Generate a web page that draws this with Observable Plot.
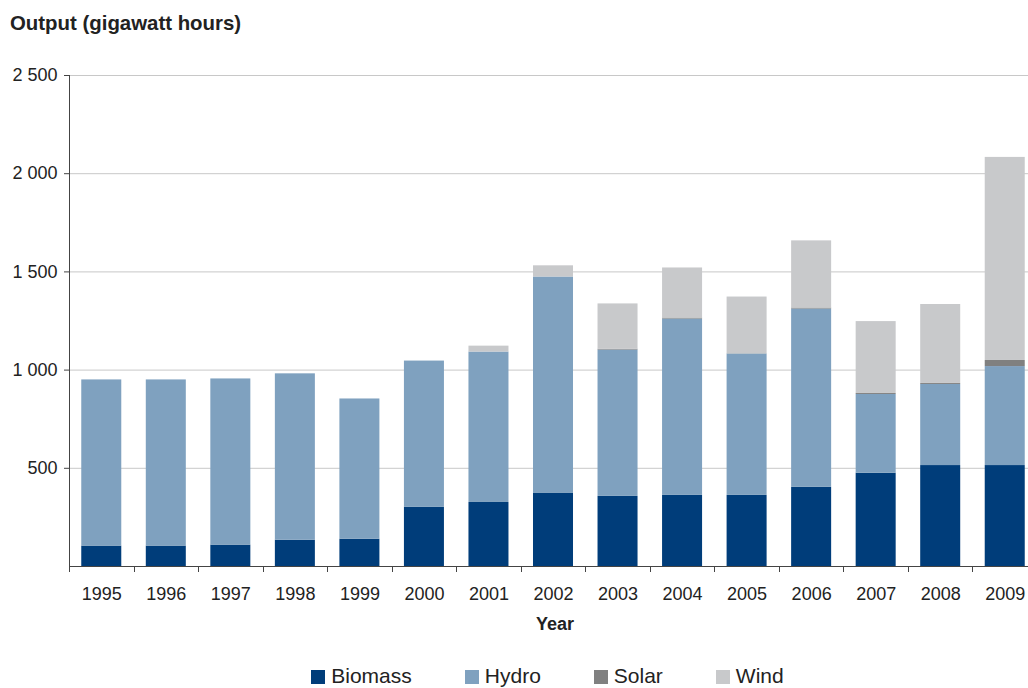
<!DOCTYPE html>
<html>
<head>
<meta charset="utf-8">
<script src="https://cdn.jsdelivr.net/npm/d3@7"></script>
<script src="https://cdn.jsdelivr.net/npm/@observablehq/plot@0.6"></script>
<style>
  body { margin: 0; background: #fff; overflow: hidden; font-family: "Liberation Sans", Arial, sans-serif; color: #222; }
  #wrap { position: relative; width: 1028px; height: 688px; overflow: hidden; }
  #title { position: absolute; left: 10px; top: 13px; font-weight: bold; font-size: 20.4px; line-height: 1; white-space: nowrap; }
  #chart { position: absolute; left: 0; top: 0; }
  #legend { position: absolute; top: 665px; left: 69px; width: 957px; display: flex; justify-content: center; gap: 53px; font-size: 21px; line-height: 1; }
  .item { display: flex; align-items: flex-start; white-space: nowrap; }
  .sw { width: 14px; height: 14px; margin-right: 6px; margin-top: 5px; }
</style>
</head>
<body>
<div id="wrap">
  <div id="title">Output (gigawatt hours)</div>
  <div id="chart"></div>
  <div id="legend"></div>
</div>
<script>
// Electricity output by renewable source, gigawatt hours
const years   = [1995, 1996, 1997, 1998, 1999, 2000, 2001, 2002, 2003, 2004, 2005, 2006, 2007, 2008, 2009];
const biomass = [104, 104, 109, 134, 139, 301, 326, 374, 357, 362, 362, 403, 475, 514, 514];
const hydro   = [846, 846, 846, 847, 714, 745, 766, 1100, 745, 898, 720, 908, 401, 413, 504];
const solar   = [0, 0, 0, 0, 0, 0, 0, 0, 4, 5, 1, 5, 5, 5, 31];
const wind    = [0, 0, 0, 0, 0, 0, 30, 57, 231, 255, 289, 342, 366, 402, 1034];

const sources = ["Biomass", "Hydro", "Solar", "Wind"];
const colours = ["#003d7a", "#7fa1bf", "#808080", "#c8c9cb"];
const yTicks  = [500, 1000, 1500, 2000, 2500];

const seriesBySource = { Biomass: biomass, Hydro: hydro, Solar: solar, Wind: wind };
const rows = sources.flatMap(source =>
  years.map((year, i) => ({ year, source, value: seriesBySource[source][i] }))
);

// Thousands separated by a space: "2 500"
const fmt = d3.formatLocale({ decimal: ".", thousands: " ", grouping: [3], currency: ["", ""] }).format(",");

// Band layout of the year axis
const xRange = [69, 1037];
const padInner = 0.38, padOuter = 0.19;
const step = (xRange[1] - xRange[0]) / (years.length - padInner + 2 * padOuter);
const halfGap = step * padInner / 2;

const font = '"Liberation Sans", Arial, sans-serif';

// Axis lines and the tick marks between year bands
function axisLines(index, scales, values, dims) {
  const g = d3.create("svg:g").attr("stroke", "#444").attr("stroke-width", 1).attr("fill", "none");
  const x0 = dims.marginLeft + 0.5;
  const yb = dims.height - dims.marginBottom;
  g.append("line").attr("x1", x0).attr("x2", x0).attr("y1", dims.marginTop).attr("y2", yb + 0.5);
  g.append("line").attr("x1", x0).attr("x2", dims.width).attr("y1", yb + 0.5).attr("y2", yb + 0.5);
  const bounds = years.map(y => scales.x(y) - halfGap);
  bounds.push(scales.x(years[years.length - 1]) + step - halfGap);
  for (const b of bounds) {
    const xx = Math.round(b) + 0.5;
    g.append("line").attr("x1", xx).attr("x2", xx).attr("y1", yb).attr("y2", yb + 6);
  }
  return g.node();
}

const chart = Plot.plot({
  width: 1028,
  height: 640,
  marginTop: 75,
  marginBottom: 74,
  marginLeft: 69,
  marginRight: 0,
  style: { fontFamily: font, fontSize: "18px", color: "#222", background: "transparent", overflow: "hidden" },
  x: { type: "band", domain: years, range: xRange, paddingInner: padInner, paddingOuter: padOuter, align: 0.5, round: false, label: null },
  y: { domain: [0, 2500], label: null },
  color: { domain: sources, range: colours },
  marks: [
    Plot.gridY(yTicks, { stroke: "#c8c8c8", strokeOpacity: 1 }),
    Plot.barY(rows, { x: "year", y: "value", fill: "source" }),
    Plot.axisY(yTicks, { tickSize: 5, tickPadding: 7, tickFormat: fmt, stroke: "#444", fontSize: 18 }),
    Plot.axisX({ tickSize: 0, tickPadding: 21, tickFormat: d => String(d), fontSize: 18 }),
    axisLines,
    Plot.text(["Year"], { frameAnchor: "bottom", dy: 63, dx: 6, fontWeight: "bold", fontSize: 18, fill: "#222" })
  ]
});
document.getElementById("chart").appendChild(chart);

// Legend below the chart
const legend = d3.select("#legend");
sources.forEach((s, i) => {
  const item = legend.append("div").attr("class", "item");
  item.append("div").attr("class", "sw").style("background", colours[i]);
  item.append("span").text(s);
});
</script>
</body>
</html>
